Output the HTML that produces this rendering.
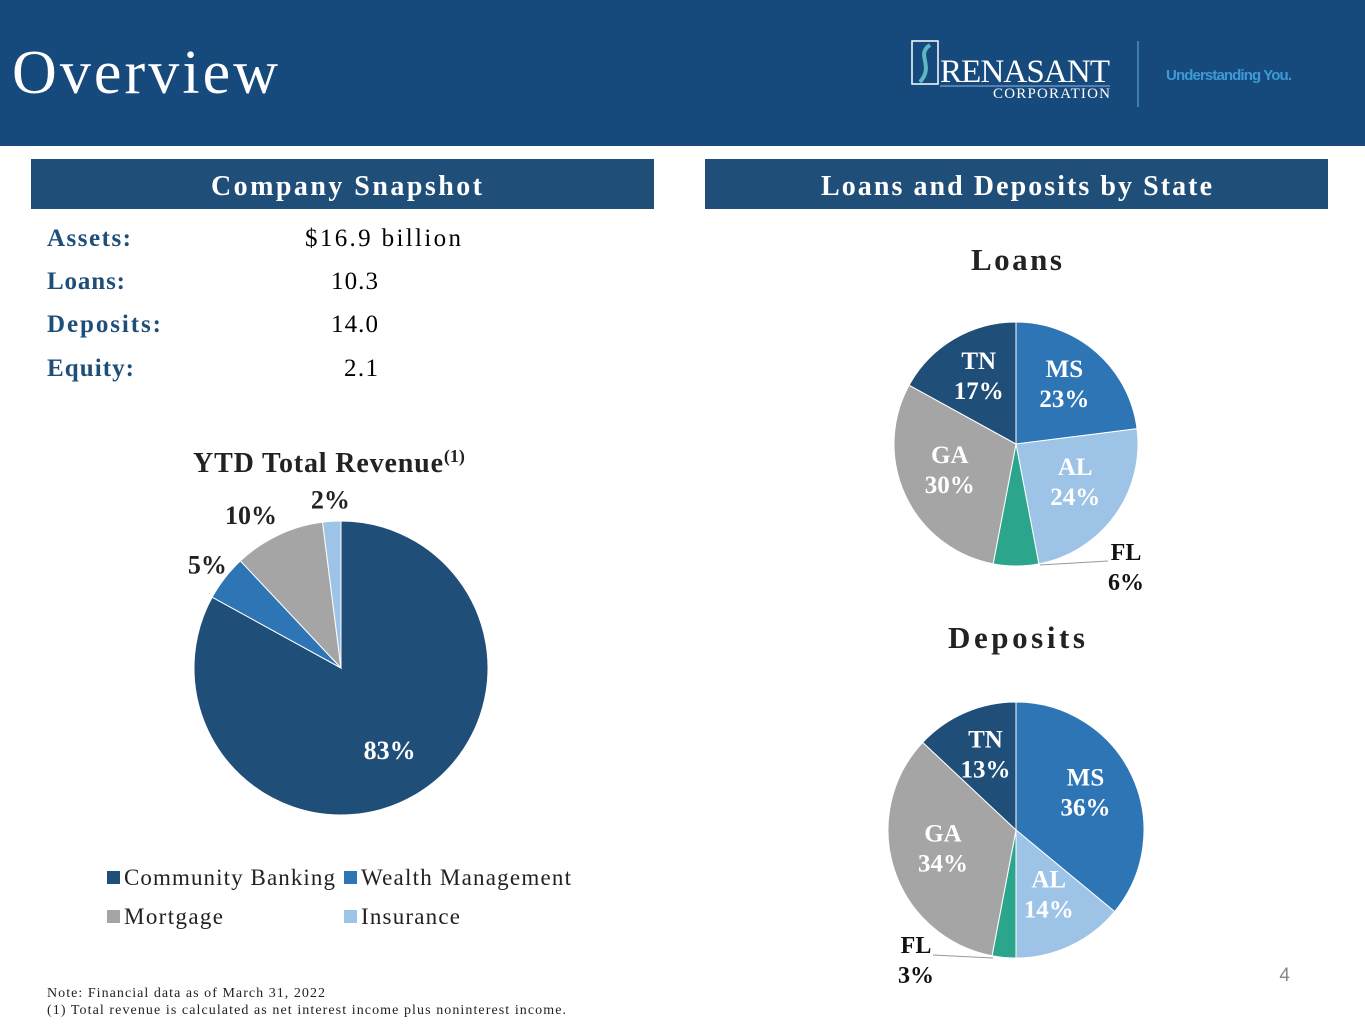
<!DOCTYPE html>
<html><head><meta charset="utf-8"><style>
body{margin:0;width:1365px;height:1024px;overflow:hidden;background:#fff;font-family:"Liberation Serif",serif}
</style></head><body>
<svg width="1365" height="1024" xmlns="http://www.w3.org/2000/svg" id="pg">
<rect x="0" y="0" width="1365" height="146" fill="#174a7c"/>
<text x="12" y="93" font-size="62" fill="#fff" font-family="Liberation Serif" textLength="266">Overview</text>
<g>
<rect x="912" y="41" width="26" height="43" fill="none" stroke="#fff" stroke-width="1.5"/>
<path d="M930 45 C915 55 935 65 920 82" stroke="#5bb8c4" stroke-width="4" fill="none"/>
<text x="940" y="82" font-size="33" fill="#fff" font-family="Liberation Serif" textLength="170">RENASANT</text>
<line x1="940" y1="86" x2="1110" y2="86" stroke="#8fb4d9" stroke-width="1"/>
<text x="993" y="98" font-size="15" fill="#fff" font-family="Liberation Serif" textLength="117">CORPORATION</text>
<line x1="1138" y1="41" x2="1138" y2="107" stroke="#4a90c8" stroke-width="1.5"/>
<text x="1166" y="80" font-size="15" font-weight="bold" fill="#3d9ad6" font-family="Liberation Sans" textLength="126">Understanding You.</text>
</g>
<rect x="31" y="159" width="623" height="50" fill="#1f4e79"/>
<text x="211" y="195" font-size="28" font-weight="bold" fill="#fff" textLength="271">Company Snapshot</text>
<rect x="705" y="159" width="623" height="50" fill="#1f4e79"/>
<text x="821" y="195" font-size="28" font-weight="bold" fill="#fff" textLength="391">Loans and Deposits by State</text>
<g font-size="25">
<text x="47" y="246" font-weight="bold" fill="#1f4e79" textLength="84">Assets:</text><text x="305" y="246" textLength="156">$16.9 billion</text>
<text x="47" y="289" font-weight="bold" fill="#1f4e79" textLength="78">Loans:</text><text x="331" y="289" textLength="47">10.3</text>
<text x="47" y="332" font-weight="bold" fill="#1f4e79" textLength="114">Deposits:</text><text x="331" y="332" textLength="47">14.0</text>
<text x="47" y="376" font-weight="bold" fill="#1f4e79" textLength="87">Equity:</text><text x="344" y="376" textLength="34">2.1</text>
</g>
<text x="193" y="472" font-size="28" font-weight="bold" fill="#222"><tspan textLength="250">YTD Total Revenue</tspan><tspan font-size="18" dy="-10">(1)</tspan></text>
<text x="971" y="270" font-size="31" font-weight="bold" fill="#222" textLength="91">Loans</text>
<text x="948" y="648" font-size="31" font-weight="bold" fill="#222" textLength="137">Deposits</text>
<g id="rev"></g>
<g id="loans"></g>
<g id="deps"></g>
<g font-size="23" fill="#222">
<rect x="107" y="871" width="13" height="13" fill="#1f4e79"/><text x="124" y="885" textLength="211">Community Banking</text>
<rect x="344" y="871" width="13" height="13" fill="#2e75b6"/><text x="361" y="885" textLength="210">Wealth Management</text>
<rect x="107" y="910" width="13" height="13" fill="#a5a5a5"/><text x="124" y="924" textLength="99">Mortgage</text>
<rect x="344" y="910" width="13" height="13" fill="#9dc3e6"/><text x="361" y="924" textLength="99">Insurance</text>
</g>
<text x="47" y="997" font-size="14" fill="#222" textLength="278">Note: Financial data as of  March 31, 2022</text>
<text x="47" y="1014" font-size="14" fill="#222" textLength="519">(1) Total revenue is calculated as net interest income plus noninterest income.</text>
<text x="1290" y="981" font-size="19" fill="#888" text-anchor="end" font-family="Liberation Sans">4</text>
<g font-size="24" font-weight="bold" fill="#111" text-anchor="middle">
<line x1="1040" y1="565" x2="1108" y2="561" stroke="#999"/>
<text x="1126" y="560">FL</text><text x="1126" y="590">6%</text>
<line x1="933" y1="955" x2="993" y2="958" stroke="#999"/>
<text x="916" y="953">FL</text><text x="916" y="983">3%</text>
</g>
</svg>
<script>
const revCats=["Community Banking","Wealth Management","Mortgage","Insurance"];
const revVals=[83,5,10,2];
const revColors=["#1f4e79","#2e75b6","#a5a5a5","#9dc3e6"];
const loanCats=["MS","AL","FL","GA","TN"];
const loanVals=[23,24,6,30,17];
const depCats=["MS","AL","FL","GA","TN"];
const depVals=[36,14,3,34,13];
const stateColors=["#2e75b6","#9dc3e6","#2ca58d","#a5a5a5","#1f4e79"];
const NS="http://www.w3.org/2000/svg";
function pie(gid,cats,vals,colors,cx,cy,r,labelFn){
  const g=document.getElementById(gid);
  const tot=vals.reduce((a,b)=>a+b,0);
  let cum=0;
  vals.forEach((v,i)=>{
    const a0=cum/tot*2*Math.PI, a1=(cum+v)/tot*2*Math.PI;
    const x0=cx+r*Math.sin(a0),y0=cy-r*Math.cos(a0),x1=cx+r*Math.sin(a1),y1=cy-r*Math.cos(a1);
    const p=document.createElementNS(NS,"path");
    p.setAttribute("d",`M${cx},${cy}L${x0},${y0}A${r},${r} 0 ${a1-a0>Math.PI?1:0} 1 ${x1},${y1}Z`);
    p.setAttribute("fill",colors[i]);p.setAttribute("stroke","#fff");p.setAttribute("stroke-width","1");
    
    
    g.appendChild(p);
    const am=(a0+a1)/2;
    labelFn(g,cats[i],v,am,cx,cy,r);
    cum+=v;
  });
}
function txt(g,x,y,s,fill,size){
  const t=document.createElementNS(NS,"text");
  t.setAttribute("x",x);t.setAttribute("y",y);t.setAttribute("fill",fill);
  t.setAttribute("font-size",size);t.setAttribute("font-weight","bold");t.setAttribute("text-anchor","middle");
  
  
  t.textContent=s;g.appendChild(t);
}
pie("rev",revCats,revVals,revColors,341,668,147,(g,c,v,am,cx,cy,r)=>{
  const f=v>50?0.65:1.15;
  let x=cx+f*r*Math.sin(am),y=cy-f*r*Math.cos(am);
  if(v===10)x-=18;
  txt(g,x,y+9,v+"%",v>50?"#fff":"#222",26);
});
function stateLabel(g,c,v,am,cx,cy,r){
  if(c==="FL")return;
  const f=0.6,x=cx+f*r*Math.sin(am),y=cy-f*r*Math.cos(am);
  txt(g,x,y-12,c,"#fff",25);txt(g,x,y+18,v+"%","#fff",25);
}
pie("loans",loanCats,loanVals,stateColors,1016,444,122,stateLabel);
pie("deps",depCats,depVals,stateColors,1016,830,128,stateLabel);
</script>
</body></html>
